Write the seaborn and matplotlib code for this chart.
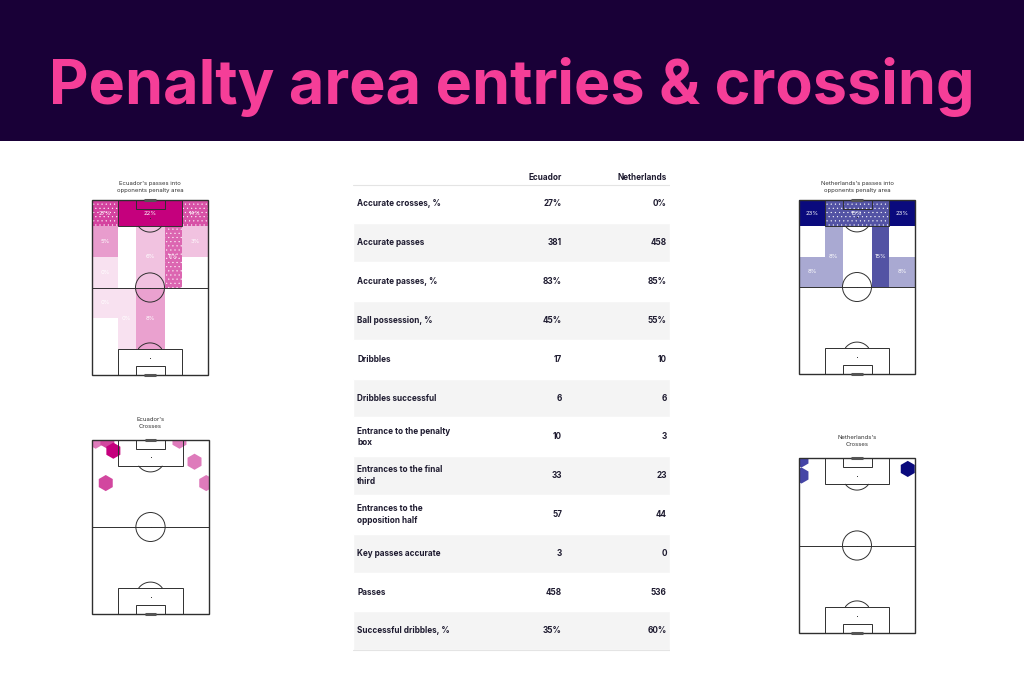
import matplotlib
matplotlib.use("Agg")
import matplotlib.pyplot as plt
from matplotlib.patches import Rectangle, Circle
from matplotlib.colors import LinearSegmentedColormap
import numpy as np
import pandas as pd
import seaborn as sns

title = "Penalty area entries & crossing"

# team stats table
stat_names = ["Accurate crosses, %", "Accurate passes", "Accurate passes, %",
              "Ball possession, %", "Dribbles", "Dribbles successful",
              "Entrance to the penalty\nbox", "Entrances to the final\nthird",
              "Entrances to the\nopposition half", "Key passes accurate",
              "Passes", "Successful dribbles, %"]
ecuador_vals = ["27%", "381", "83%", "45%", "17", "6", "10", "33", "57", "3", "458", "35%"]
netherlands_vals = ["0%", "458", "85%", "55%", "10", "6", "3", "23", "44", "0", "536", "60%"]

# positional zones on a 80 x 120 pitch (attacking upwards)
zone_x0 = [0, 18, 62, 0, 0, 18, 30, 50, 62, 62, 0, 0, 18, 30, 50, 62, 62, 0, 18, 62]
zone_x1 = [18, 62, 80, 18, 18, 30, 50, 62, 80, 80, 18, 18, 30, 50, 62, 80, 80, 18, 62, 80]
zone_y0 = [102, 102, 102, 81, 60, 60, 60, 60, 81, 60, 39, 18, 18, 18, 18, 39, 18, 0, 0, 0]
zone_y1 = [120, 120, 120, 102, 81, 102, 102, 102, 102, 81, 60, 39, 60, 60, 60, 60, 39, 18, 18, 18]

# passes into penalty area, share per zone and shading
ecu_pct = [27, 22, 14, 5, 0, 0, 6, 11, 3, 0, 0, 0, 0, 8, 0, 0, 0, 0, 0, 0]
ecu_shade = [0.74, 1.0, 0.68, 0.39, 0.12, 0, 0.24, 0.6, 0.24, 0, 0.12, 0, 0.12, 0.37, 0, 0, 0, 0, 0, 0]
ecu_hatch = [1, 0, 1, 0, 0, 0, 0, 1, 0, 0, 0, 0, 0, 0, 0, 0, 0, 0, 0, 0]
nl_pct = [23, 15, 23, 0, 8, 8, 0, 15, 0, 8, 0, 0, 0, 0, 0, 0, 0, 0, 0, 0]
nl_shade = [1.0, 0.7, 1.0, 0, 0.35, 0.35, 0, 0.7, 0, 0.35, 0, 0, 0, 0, 0, 0, 0, 0, 0, 0]
nl_hatch = [0, 1, 0, 0, 0, 0, 0, 0, 0, 0, 0, 0, 0, 0, 0, 0, 0, 0, 0, 0]

# crosses (hexbin cells)
ecu_cross_x = [2.5, 10.5, 14.6, 59.8, 70.1, 9.4, 78.1]
ecu_cross_y = [119.5, 119.5, 112.6, 119.5, 105.0, 90.3, 90.3]
ecu_cross_n = [1, 2, 3, 1, 1, 2, 1]
nl_cross_x = [1.7, 1.7, 75.0]
nl_cross_y = [119.0, 108.0, 112.5]
nl_cross_n = [1, 1, 2]

PINK = "#C5007D"
NAVY = "#0A0A7D"
LINE = "#2f2f2f"


def arc(ax, cx, cy, r, a0, a1, lw):
    t = np.radians(np.linspace(a0, a1, 60))
    ax.plot(cx + r * np.cos(t), cy + r * np.sin(t), color=LINE, lw=lw, zorder=4)


def draw_pitch(ax):
    lw = 0.7
    ax.set_xlim(0, 80)
    ax.set_ylim(0, 120)
    ax.set_xticks([])
    ax.set_yticks([])
    for s in ax.spines.values():
        s.set_visible(False)
    ax.add_patch(Rectangle((0, 0), 80, 120, fill=False, ec=LINE, lw=1.0, zorder=4, clip_on=False))
    ax.plot([0, 80], [60, 60], color=LINE, lw=lw, zorder=4)
    ax.add_patch(Circle((40, 60), 10, fill=False, ec=LINE, lw=lw, zorder=4))
    ax.plot([40], [60], "o", color=LINE, ms=0.7, mew=0, zorder=4)
    # own end
    ax.add_patch(Rectangle((18, 0), 44, 18, fill=False, ec=LINE, lw=lw, zorder=4))
    ax.add_patch(Rectangle((30, 0), 20, 6, fill=False, ec=LINE, lw=lw, zorder=4))
    arc(ax, 40, 12, 10, 36.87, 143.13, lw)
    ax.plot([40], [12], "o", color=LINE, ms=0.7, mew=0, zorder=4)
    ax.plot([36, 44], [0, 0], color="#555555", lw=2.2, zorder=5, solid_capstyle="butt", clip_on=False)
    # attacking end
    ax.add_patch(Rectangle((18, 102), 44, 18, fill=False, ec=LINE, lw=lw, zorder=4))
    ax.add_patch(Rectangle((30, 114), 20, 6, fill=False, ec=LINE, lw=lw, zorder=4))
    arc(ax, 40, 108, 10, 216.87, 323.13, lw)
    ax.plot([40], [108], "o", color=LINE, ms=0.7, mew=0, zorder=4)
    ax.plot([36, 44], [120, 120], color="#555555", lw=2.2, zorder=5, solid_capstyle="butt", clip_on=False)


def draw_zones(ax, pct, shade, hatch, colour):
    cmap = LinearSegmentedColormap.from_list("z", ["#FFFFFF", colour])
    for i in range(len(pct)):
        w = zone_x1[i] - zone_x0[i]
        h = zone_y1[i] - zone_y0[i]
        ax.add_patch(Rectangle((zone_x0[i], zone_y0[i]), w, h,
                               facecolor=cmap(shade[i]), lw=0,
                               hatch="...." if hatch[i] else None, zorder=1))
        ax.text(zone_x0[i] + w / 2, zone_y0[i] + h / 2, f"{pct[i]}%",
                color="white", ha="center", va="center", fontsize=4.3, zorder=6)


def draw_crosses(ax, xs, ys, ns, palette):
    df = pd.DataFrame({"x": xs, "y": ys, "n": ns})
    sns.scatterplot(data=df, x="x", y="y", hue="n", palette=palette, marker="h",
                    s=135, linewidth=0, legend=False, ax=ax, zorder=3)
    ax.set_xlabel("")
    ax.set_ylabel("")


sns.set_theme(style="white")
plt.rcParams["font.family"] = ["Inter", "DejaVu Sans"]
plt.rcParams["hatch.color"] = (1, 1, 1, 0.35)
plt.rcParams["hatch.linewidth"] = 0.3

W, H = 1024, 683
fig = plt.figure(figsize=(W / 100, H / 100), dpi=100)
fig.patch.set_facecolor("white")


def px_axes(x0, y0, x1, y1):
    return fig.add_axes([x0 / W, 1 - y1 / H, (x1 - x0) / W, (y1 - y0) / H])


# title banner
tb = px_axes(0, 0, W, 141)
tb.set_facecolor("#190037")
tb.set_xticks([])
tb.set_yticks([])
for s in tb.spines.values():
    s.set_visible(False)
tb.text(0.5, 0.262, title, ha="center", va="baseline", color="#F53E98",
        fontsize=44, fontweight="bold", transform=tb.transAxes)

# Ecuador panels
ax1 = px_axes(92, 200, 208, 375)
draw_zones(ax1, ecu_pct, ecu_shade, ecu_hatch, PINK)
draw_pitch(ax1)
ax1.set_title("Ecuador's passes into\nopponents penalty area", fontsize=4.3, color="#333333", pad=6, linespacing=1.3)

ax2 = px_axes(92, 440, 209, 614)
draw_pitch(ax2)
draw_crosses(ax2, ecu_cross_x, ecu_cross_y, ecu_cross_n, {1: "#DE7BBB", 2: "#D2479F", 3: PINK})
ax2.set_title("Ecuador's\nCrosses", fontsize=4.3, color="#333333", pad=9, linespacing=1.3)

# Netherlands panels
ax3 = px_axes(799, 200, 915, 374)
draw_zones(ax3, nl_pct, nl_shade, nl_hatch, NAVY)
draw_pitch(ax3)
ax3.set_title("Netherlands's passes into\nopponents penalty area", fontsize=4.3, color="#333333", pad=6, linespacing=1.3)

ax4 = px_axes(799, 458, 915, 633)
draw_pitch(ax4)
draw_crosses(ax4, nl_cross_x, nl_cross_y, nl_cross_n, {1: "#4545A6", 2: NAVY})
ax4.set_title("Netherlands's\nCrosses", fontsize=4.3, color="#333333", pad=9, linespacing=1.3)

# stats table
tx = px_axes(353, 165, 670, 652)
tx.set_xlim(0, 1)
tx.set_ylim(11.546, -1.005)
tx.axis("off")
rows = np.arange(len(stat_names))
tx.barh(rows[1::2], 1, height=1, left=0, color="#F4F4F4", zorder=0)
tx.axhline(-0.5, color="#E4E4E4", lw=0.8)
tx.axhline(11.5, color="#E4E4E4", lw=0.8)
txt = "#1D1A2F"
fs = 5.9
tx.text(0.659, -0.67, "Ecuador", ha="right", va="center", fontsize=fs, fontweight="bold", color=txt)
tx.text(0.99, -0.67, "Netherlands", ha="right", va="center", fontsize=fs, fontweight="bold", color=txt)
for i, name in enumerate(stat_names):
    tx.text(0.013, i, name, ha="left", va="center", fontsize=fs, fontweight="bold", color=txt, linespacing=1.35)
    tx.text(0.659, i, ecuador_vals[i], ha="right", va="center", fontsize=fs, fontweight="bold", color=txt)
    tx.text(0.99, i, netherlands_vals[i], ha="right", va="center", fontsize=fs, fontweight="bold", color=txt)

fig.savefig("out.png", dpi=100)
